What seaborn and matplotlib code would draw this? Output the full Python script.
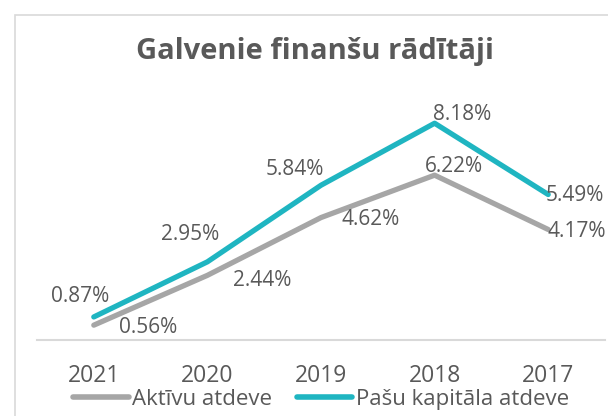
import pandas as pd
import matplotlib.pyplot as plt
import seaborn as sns
from matplotlib.patches import Rectangle

# Chart data
years = ['2021', '2020', '2019', '2018', '2017']
roa = [0.56, 2.44, 4.62, 6.22, 4.17]   # Aktīvu atdeve
roe = [0.87, 2.95, 5.84, 8.18, 5.49]   # Pašu kapitāla atdeve
series_names = ['Aktīvu atdeve', 'Pašu kapitāla atdeve']

# label offsets in pixels (style only)
roa_offsets = [(54, -2), (55, -5), (50, -2), (19, 9), (29, -2)]
roe_offsets = [(-14, 20), (-17, 27), (-26, 16), (28, 9), (27, -1)]

df = pd.DataFrame({
    'year': years * 2,
    'value': roa + roe,
    'series': [series_names[0]] * len(years) + [series_names[1]] * len(years),
})

sns.set_style('white')
plt.rcParams['font.family'] = ['Open Sans', 'DejaVu Sans']
txt = '#595959'
colors = {series_names[0]: '#A6A6A6', series_names[1]: '#1FB5C1'}

fig = plt.figure(figsize=(6.08, 4.16), dpi=100)
ax = fig.add_axes([37 / 608, 76 / 416, 568 / 608, 265 / 416])

sns.lineplot(data=df, x='year', y='value', hue='series', palette=colors,
             sort=False, linewidth=3.8, ax=ax, legend=True)
for line in ax.lines:
    line.set_solid_capstyle('round')
    line.set_solid_joinstyle('round')

for vals, offs in [(roa, roa_offsets), (roe, roe_offsets)]:
    for i, (v, off) in enumerate(zip(vals, offs)):
        ax.annotate(f'{v:.2f}%', (i, v), xytext=off, textcoords='offset pixels',
                    ha='center', va='center', fontsize=15, color=txt)

ax.set_xlim(-0.5, 4.5)
ax.set_ylim(0, 10)
ax.set_xlabel('')
ax.set_ylabel('')
ax.set_yticks([])
ax.tick_params(axis='x', length=0, pad=17, labelsize=16.5, labelcolor=txt)
for s in ['top', 'left', 'right']:
    ax.spines[s].set_visible(False)
ax.spines['bottom'].set_color('#D9D9D9')
ax.spines['bottom'].set_linewidth(1.5)

leg = ax.legend(loc='center', bbox_to_anchor=(0.5, -0.225), ncol=2, frameon=False,
                fontsize=16, handlelength=2.5, handletextpad=0.15, columnspacing=1.1,
                borderaxespad=0)
for t in leg.get_texts():
    t.set_color(txt)
for h in leg.get_lines():
    h.set_linewidth(4)
    h.set_solid_capstyle('round')

fig.text(315 / 608, 1 - 51 / 416, 'Galvenie finanšu rādītāji', ha='center', va='center',
         fontsize=21, fontweight='bold', color=txt)

fig.add_artist(Rectangle((15 / 608, -0.1), 1.0, 1 - 15 / 416 + 0.1, transform=fig.transFigure,
                         fill=False, edgecolor='#D9D9D9', linewidth=1.2))

fig.savefig('out.png', dpi=100)
